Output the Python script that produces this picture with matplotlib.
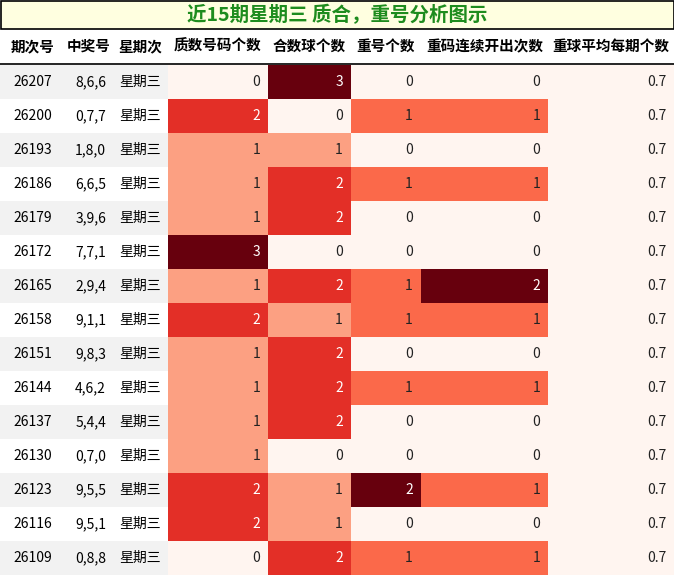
import matplotlib
matplotlib.use("Agg")
import matplotlib.pyplot as plt
from matplotlib.patches import Rectangle
import matplotlib.colors as mcolors

plt.rcParams['font.family'] = ['Noto Sans CJK SC', 'DejaVu Sans']

title = "近15期星期三 质合，重号分析图示"
headers = ["期次号", "中奖号", "星期次", "质数号码个数", "合数球个数", "重号个数", "重码连续开出次数", "重球平均每期个数"]
periods = ["26207","26200","26193","26186","26179","26172","26165","26158","26151","26144","26137","26130","26123","26116","26109"]
numbers = ["8,6,6","0,7,7","1,8,0","6,6,5","3,9,6","7,7,1","2,9,4","9,1,1","9,8,3","4,6,2","5,4,4","0,7,0","9,5,5","9,5,1","0,8,8"]
weekday = ["星期三"] * 15
primes = [0,2,1,1,1,3,1,2,1,1,1,1,2,2,0]
composites = [3,0,1,2,2,0,2,1,2,2,2,0,1,1,2]
repeats = [0,1,0,1,0,0,1,1,0,1,0,0,2,0,1]
consec = [0,1,0,1,0,0,2,1,0,1,0,0,1,0,1]
avg = [0.7] * 15

W, H = 674, 576
fig = plt.figure(figsize=(W/100, H/100), dpi=100)
ax = fig.add_axes([0, 0, 1, 1])
ax.set_xlim(0, W); ax.set_ylim(H, 0); ax.axis('off')

edges = [0, 65, 112, 168, 268, 351, 421, 548, 674]
title_h, head_h, row_h = 28, 36, 34
top = title_h + head_h + 1

ax.add_patch(Rectangle((0.5, 0.5), W-1, title_h, facecolor='#FFFFE0', edgecolor='black', lw=1.2))
ax.text(W/2, title_h/2 + 1, title, ha='center', va='center', fontsize=14, fontweight='bold', color='#1E8C1E')

for i, h in enumerate(headers):
    ax.text((edges[i]+edges[i+1])/2, title_h + head_h/2, h, ha='center', va='center', fontsize=10.5, fontweight='bold')
ax.plot([0, W], [title_h+head_h, title_h+head_h], color='black', lw=1.2)

cmap = plt.get_cmap('Reds')
heat_cols = [primes, composites, repeats, consec, avg]
for r in range(15):
    y = top + r*row_h
    bg = '#F2F2F2' if r % 2 == 0 else 'white'
    ax.add_patch(Rectangle((0, y), edges[3], row_h, facecolor=bg, edgecolor='none'))
    yc = y + row_h/2
    ax.text((edges[0]+edges[1])/2, yc, periods[r], ha='center', va='center', fontsize=10)
    ax.text(edges[2]-6, yc, numbers[r], ha='right', va='center', fontsize=10)
    ax.text((edges[2]+edges[3])/2, yc, weekday[r], ha='center', va='center', fontsize=10)
    for c, col in enumerate(heat_cols):
        mx = max(col); mn = min(col)
        t = 0 if mx == mn else (col[r]-mn)/(mx-mn)
        color = cmap(t)
        x0, x1 = edges[3+c], edges[4+c]
        ax.add_patch(Rectangle((x0, y), x1-x0, row_h, facecolor=color, edgecolor='none'))
        lum = 0.299*color[0] + 0.587*color[1] + 0.114*color[2]
        txt = f"{col[r]}" if isinstance(col[r], int) else f"{col[r]:.1f}"
        ax.text(x1-8, yc, txt, ha='right', va='center', fontsize=10,
                color='white' if lum < 0.55 else '#222222')

fig.savefig("out.png", dpi=100)
